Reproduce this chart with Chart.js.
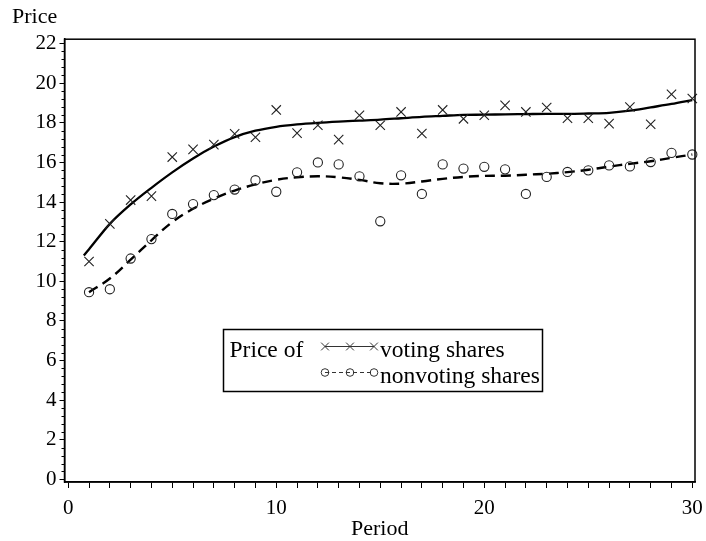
<!DOCTYPE html>
<html>
<head>
<meta charset="utf-8">
<script src="https://cdn.jsdelivr.net/npm/chart.js@4/dist/chart.umd.min.js"></script>
<style>
  html, body { margin: 0; padding: 0; background: #ffffff; }
  canvas { display: block; }
</style>
</head>
<body>
<canvas id="chart" width="706" height="541"></canvas>
<script>
// Observed prices per period
const periods = [1, 2, 3, 4, 5, 6, 7, 8, 9, 10, 11, 12, 13, 14, 15,
                 16, 17, 18, 19, 20, 21, 22, 23, 24, 25, 26, 27, 28, 29, 30];
const votingPrice = [11.0, 12.9, 14.1, 14.3, 16.27, 16.66, 16.9, 17.44, 17.27, 18.65,
                     17.48, 17.88, 17.15, 18.38, 17.88, 18.55, 17.46, 18.65, 18.2, 18.38,
                     18.88, 18.55, 18.77, 18.23, 18.23, 17.96, 18.8, 17.93, 19.44, 19.23];
const nonvotingPrice = [9.45, 9.6, 11.15, 12.13, 13.4, 13.9, 14.35, 14.63, 15.1, 14.52,
                        15.5, 16.0, 15.9, 15.3, 13.03, 15.35, 14.41, 15.9, 15.69, 15.78,
                        15.65, 14.41, 15.27, 15.52, 15.6, 15.85, 15.8, 16.02, 16.48, 16.4];

// Smoothed curves through each series
const votingFitPeriods = [0.75, 1, 2, 3, 4, 5, 6, 7, 8, 9, 10, 11, 12, 13, 14, 15,
                          16, 17, 18, 19, 20, 21, 22, 23, 24, 25, 26, 27, 28, 29, 30];
const votingFit = [11.3, 11.62, 12.9, 13.88, 14.72, 15.5, 16.2, 16.8, 17.28, 17.6, 17.8,
                   17.92, 18.0, 18.06, 18.11, 18.16, 18.23, 18.3, 18.35, 18.4, 18.41,
                   18.43, 18.44, 18.45, 18.45, 18.47, 18.5, 18.61, 18.78, 18.95, 19.15];
const nonvotingFitPeriods = periods;
const nonvotingFit = [9.45, 10.14, 11.09, 12.07, 12.99, 13.66, 14.17, 14.58, 14.89, 15.12,
                      15.25, 15.3, 15.25, 15.12, 14.95, 14.93, 15.04, 15.17, 15.27, 15.32,
                      15.33, 15.38, 15.43, 15.51, 15.63, 15.79, 15.93, 16.06, 16.23, 16.4];

// Axis ticks
const xTickValues = [0, 1, 2, 3, 4, 5, 6, 7, 8, 9, 10, 11, 12, 13, 14, 15,
                     16, 17, 18, 19, 20, 21, 22, 23, 24, 25, 26, 27, 28, 29, 30];
const xLabelValues = [0, 10, 20, 30];
const yTickValues = [0, 2, 4, 6, 8, 10, 12, 14, 16, 18, 20, 22];
const yMinorPerMajor = 5;

// Text
const xTitle = 'Period';
const yTitle = 'Price';
const legendTitle = 'Price of';
const seriesNames = ['voting shares', 'nonvoting shares'];

const FONT = '"Liberation Serif", "Times New Roman", serif';
const INK = '#000000';
const MARK = '#222222';

const toPoints = (xs, ys) => xs.map((x, i) => ({ x: x, y: ys[i] }));

// Closed frame around the plotting area
const framePlugin = {
  id: 'frame',
  afterDraw(chart) {
    const { ctx, chartArea: a } = chart;
    ctx.save();
    ctx.strokeStyle = INK;
    ctx.lineWidth = 1.5;
    ctx.strokeRect(a.left, a.top, a.right - a.left, a.bottom - a.top);
    ctx.restore();
  }
};

// Short minor ticks on the price axis
const minorTickPlugin = {
  id: 'minorTicks',
  afterDraw(chart) {
    const { ctx } = chart;
    const y = chart.scales.y;
    const left = chart.chartArea.left;
    ctx.save();
    ctx.strokeStyle = INK;
    ctx.lineWidth = 1;
    for (let i = 0; i < yTickValues.length - 1; i++) {
      const lo = yTickValues[i], hi = yTickValues[i + 1];
      for (let k = 1; k < yMinorPerMajor; k++) {
        const v = lo + (hi - lo) * k / yMinorPerMajor;
        const py = Math.round(y.getPixelForValue(v)) + 0.5;
        ctx.beginPath();
        ctx.moveTo(left - 3, py);
        ctx.lineTo(left, py);
        ctx.stroke();
      }
    }
    ctx.restore();
  }
};

// Boxed legend with a three-symbol sample for each series
const legendPlugin = {
  id: 'shareLegend',
  afterDraw(chart) {
    const ctx = chart.ctx;
    const box = { x: 223.5, y: 329.5, w: 319, h: 62 };
    ctx.save();
    ctx.strokeStyle = INK;
    ctx.lineWidth = 1.5;
    ctx.strokeRect(box.x, box.y, box.w, box.h);
    ctx.fillStyle = INK;
    ctx.textAlign = 'left';
    ctx.textBaseline = 'middle';
    ctx.font = '23.5px ' + FONT;
    ctx.fillText(legendTitle, box.x + 6, box.y + 21);

    const sampleX = [325, 350, 374];
    const rows = [
      { name: seriesNames[0], y: box.y + 17, style: 'crossRot', radius: 5.5, dash: [] },
      { name: seriesNames[1], y: box.y + 43, style: 'circle', radius: 3.8, dash: [4, 3] }
    ];
    rows.forEach(r => {
      ctx.save();
      ctx.strokeStyle = '#333333';
      ctx.fillStyle = 'rgba(0,0,0,0)';
      ctx.lineWidth = 1;
      ctx.setLineDash(r.dash);
      ctx.beginPath();
      ctx.moveTo(sampleX[0], r.y);
      ctx.lineTo(sampleX[2], r.y);
      ctx.stroke();
      ctx.setLineDash([]);
      sampleX.forEach(px => {
        Chart.helpers.drawPoint(ctx, {
          pointStyle: r.style, radius: r.radius, borderWidth: 1, rotation: 0
        }, px, r.y);
      });
      ctx.restore();
      ctx.fillStyle = INK;
      ctx.fillText(r.name, 380, r.y + 4);
    });
    ctx.restore();
  }
};

new Chart(document.getElementById('chart'), {
  type: 'scatter',
  data: {
    datasets: [
      {
        label: seriesNames[0] + ' (points)',
        data: toPoints(periods, votingPrice),
        showLine: false,
        pointStyle: 'crossRot',
        pointRadius: 6.6,
        pointBorderWidth: 1.1,
        borderColor: MARK,
        backgroundColor: 'rgba(0,0,0,0)',
        clip: false
      },
      {
        label: seriesNames[1] + ' (points)',
        data: toPoints(periods, nonvotingPrice),
        showLine: false,
        pointStyle: 'circle',
        pointRadius: 4.6,
        pointBorderWidth: 1.1,
        borderColor: MARK,
        backgroundColor: 'rgba(0,0,0,0)',
        clip: false
      },
      {
        label: seriesNames[0],
        data: toPoints(votingFitPeriods, votingFit),
        showLine: true,
        pointRadius: 0,
        borderColor: INK,
        borderWidth: 2.3,
        cubicInterpolationMode: 'monotone',
        fill: false
      },
      {
        label: seriesNames[1],
        data: toPoints(nonvotingFitPeriods, nonvotingFit),
        showLine: true,
        pointRadius: 0,
        borderColor: INK,
        borderWidth: 2.4,
        borderDash: [10, 6],
        tension: 0.4,
        fill: false
      }
    ]
  },
  options: {
    responsive: false,
    animation: false,
    devicePixelRatio: 1,
    layout: { padding: { left: 12, right: 11, top: 0, bottom: 0 } },
    plugins: {
      legend: { display: false },
      tooltip: { enabled: false },
      title: {
        display: true,
        text: yTitle,
        align: 'start',
        color: INK,
        font: { family: FONT, size: 22, weight: 'normal', lineHeight: 1.1 },
        padding: { top: 5, bottom: 10 }
      }
    },
    scales: {
      x: {
        type: 'linear',
        min: -0.18,
        max: 30.13,
        afterBuildTicks: s => { s.ticks = xTickValues.map(v => ({ value: v })); },
        afterFit: s => { s.height = 59; s.paddingLeft = 0; s.paddingRight = 0; },
        ticks: {
          autoSkip: false,
          maxRotation: 0,
          color: INK,
          padding: 8,
          font: { family: FONT, size: 21 },
          callback: v => (xLabelValues.includes(v) ? String(v) : '')
        },
        grid: { drawOnChartArea: false, tickLength: 6, color: INK, tickWidth: 1 },
        border: { display: true, color: INK, width: 1.5 },
        title: {
          display: true,
          text: xTitle,
          color: INK,
          font: { family: FONT, size: 22 },
          padding: { top: 0, bottom: -1 }
        }
      },
      y: {
        type: 'linear',
        min: -0.13,
        max: 22.22,
        afterBuildTicks: s => { s.ticks = yTickValues.map(v => ({ value: v })); },
        afterFit: s => { s.width = 52.5; },
        ticks: {
          color: INK,
          padding: 3,
          font: { family: FONT, size: 21 },
          callback: v => String(v)
        },
        grid: { drawOnChartArea: false, tickLength: 5, color: INK, tickWidth: 1 },
        border: { display: true, color: INK, width: 1.5 }
      }
    }
  },
  plugins: [framePlugin, minorTickPlugin, legendPlugin]
});
</script>
</body>
</html>
